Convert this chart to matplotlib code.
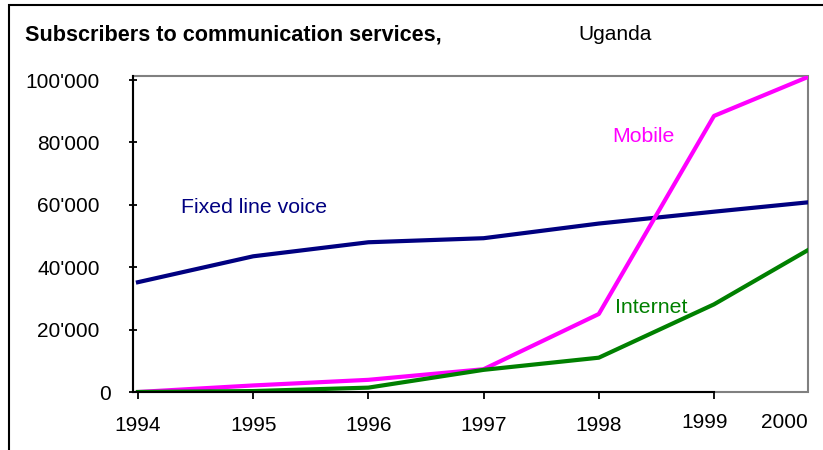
import numpy as np
import matplotlib
matplotlib.use('Agg')
import matplotlib.pyplot as plt
from matplotlib.patches import Rectangle
from matplotlib.ticker import FuncFormatter
from matplotlib.transforms import ScaledTranslation

# subscribers, Uganda
years = [1994, 1995, 1996, 1997, 1998, 1999, 2000]
fixed_line = [35200, 43500, 48000, 49300, 54000, 57800, 60800]
mobile = [0, 2100, 3900, 7300, 25000, 88500, 101000]
internet = [0, 300, 1400, 7100, 11000, 28100, 45500]
y_ticks = [0, 20000, 40000, 60000, 80000, 100000]

plt.rcParams['font.family'] = ['Liberation Sans', 'DejaVu Sans']

# the last year sits closer than the others in the original (excel-ish axis)
def fwd(x):
    x = np.asarray(x, dtype=float)
    return np.where(x <= 1999, x, 1999 + (x - 1999) * 0.816)

def inv(x):
    x = np.asarray(x, dtype=float)
    return np.where(x <= 1999, x, 1999 + (x - 1999) / 0.816)

fig = plt.figure(figsize=(8.23, 4.5), dpi=100)
ax = fig.add_axes([133 / 823, 58 / 450, 675 / 823, 316 / 450])

# outer box round the whole chart
fig.patches.append(Rectangle((9 / 823, -0.1), 1.1, 0.1 + 445 / 450, transform=fig.transFigure,
                             fill=False, edgecolor='black', linewidth=1.5))

ax.set_xscale('function', functions=(fwd, inv))
ax.plot(years, fixed_line, color='#000080', lw=3, solid_joinstyle='round')
ax.plot(years, mobile, color='#ff00ff', lw=3, solid_joinstyle='round')
ax.plot(years, internet, color='#008000', lw=3, solid_joinstyle='round')

ax.set_xlim(1993.957, 2000)
ax.set_ylim(0, 101300)

ax.patch.set_edgecolor('#808080')
ax.patch.set_linewidth(1.5)
ax.spines['top'].set_visible(False)
ax.spines['right'].set_visible(False)
ax.spines['left'].set_linewidth(1.5)
ax.spines['bottom'].set_linewidth(1.5)
ax.spines['bottom'].set_bounds(1993.957, 1999)

ax.set_yticks(y_ticks)
ax.yaxis.set_major_formatter(FuncFormatter(lambda v, p: f"{int(v):,}".replace(',', "'")))
ax.tick_params(axis='y', direction='inout', length=6, width=1.3, labelsize=15, pad=21)
ax.set_xticks(years)
ax.set_xticklabels([str(y) for y in years])
ax.tick_params(axis='x', direction='out', length=5, width=1.3, labelsize=15, pad=12)

xt = ax.get_xticklabels()
xt[5].set_transform(xt[5].get_transform() + ScaledTranslation(-9 / 100, 3 / 100, fig.dpi_scale_trans))
xt[6].set_transform(xt[6].get_transform() + ScaledTranslation(-24 / 100, 3 / 100, fig.dpi_scale_trans))
ax.get_xaxis().get_major_ticks()[-1].tick1line.set_visible(False)
yt = ax.get_yticklabels()
yt[0].set_transform(yt[0].get_transform() + ScaledTranslation(11 / 100, 0, fig.dpi_scale_trans))

ax.text(1994.37, 59000, 'Fixed line voice', color='#000080', fontsize=15.3, va='center')
ax.text(1998.12, 82000, 'Mobile', color='#ff00ff', fontsize=15.3, va='center')
ax.text(1998.14, 27000, 'Internet', color='#008000', fontsize=15.3, va='center')

fig.text(25 / 823, 1 - 35 / 450, 'Subscribers to communication services,', fontsize=15.6,
         fontweight='bold', va='center', ha='left')
fig.text(578 / 823, 1 - 35 / 450, 'Uganda', fontsize=15, va='center', ha='left')

fig.savefig('out.png', dpi=100)
